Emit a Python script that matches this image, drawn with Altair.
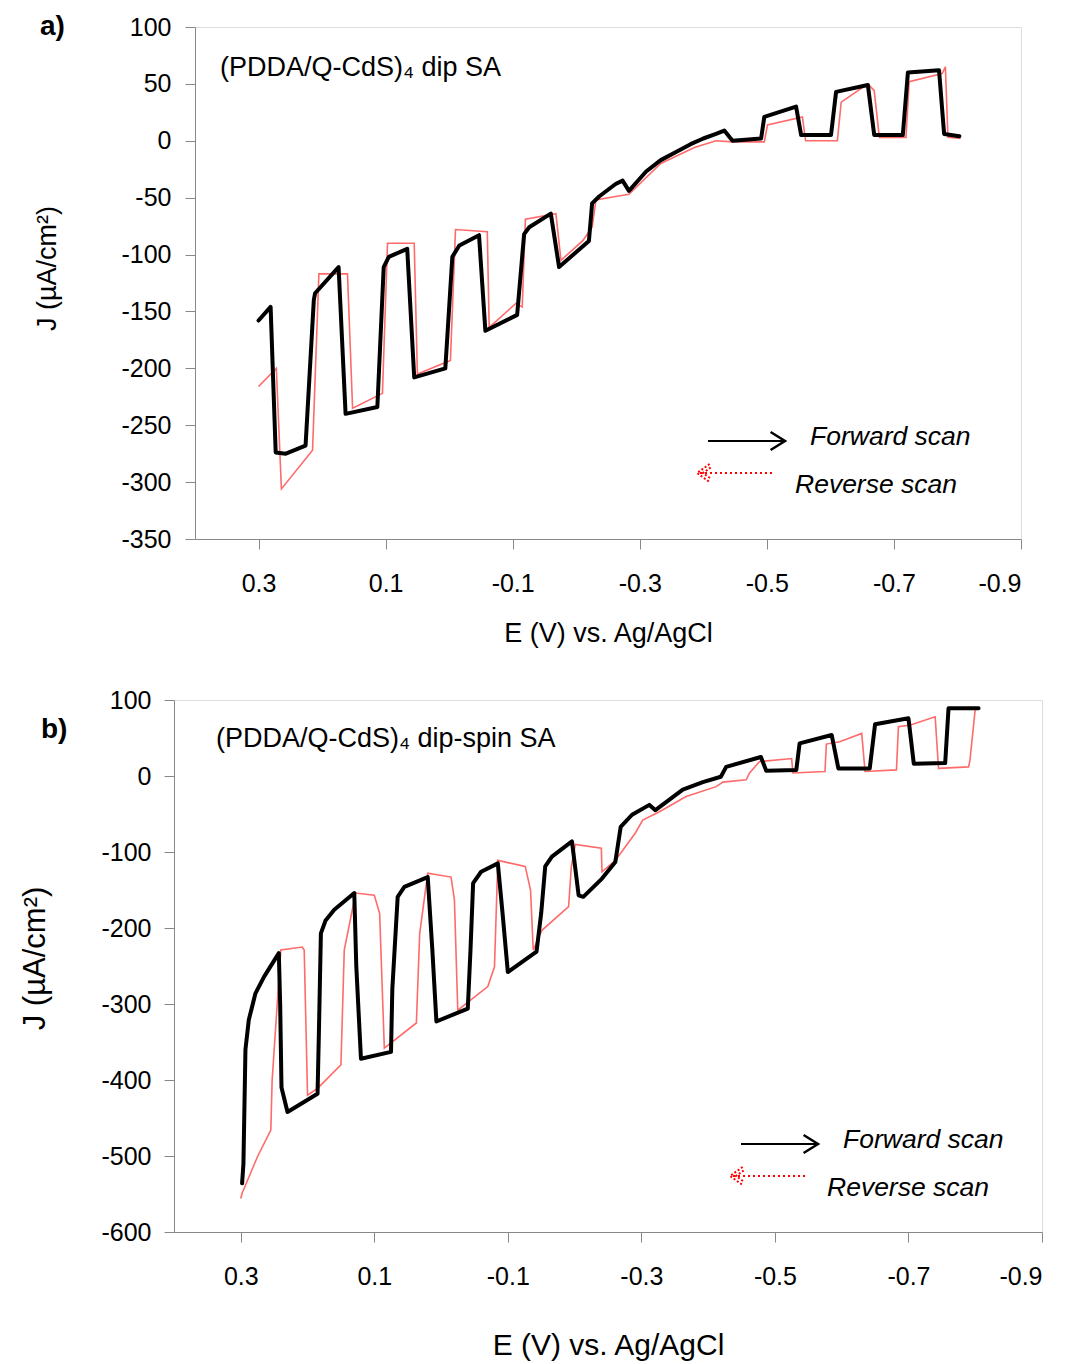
import altair as alt
import pandas as pd

FONT = "Liberation Sans"

# ---------------- Panel a: (PDDA/Q-CdS)4 dip SA ----------------
a_fwd_E = [0.300, 0.281, 0.273, 0.257, 0.226, 0.213, 0.211, 0.174, 0.163, 0.113, 0.103, 0.095, 0.066,
           0.055, 0.006, -0.005, -0.016, -0.047, -0.057, -0.107, -0.118, -0.126, -0.160, -0.173, -0.220,
           -0.225, -0.236, -0.262, -0.273, -0.283, -0.310, -0.333, -0.360, -0.380, -0.400, -0.420, -0.433,
           -0.446, -0.491, -0.496, -0.546, -0.554, -0.601, -0.609, -0.659, -0.669, -0.714, -0.722, -0.771,
           -0.779, -0.803]
a_fwd_J = [-158, -146, -274, -275, -268, -140, -134, -111, -240, -234, -111, -102, -95,
           -208, -200, -102, -92, -83, -167, -153, -82, -76, -64, -111, -88,
           -55, -49, -38, -35, -44, -27, -17, -9, -3, 2, 6, 9,
           0, 2, 21, 30, 5, 5, 43, 49, 5, 5, 60, 62,
           6, 4]

a_rev_E = [-0.805, -0.785, -0.781, -0.776, -0.724, -0.719, -0.677, -0.669, -0.659, -0.617, -0.611, -0.561,
           -0.556, -0.501, -0.496, -0.446, -0.420, -0.386, -0.333, -0.283, -0.262, -0.231, -0.225, -0.210,
           -0.176, -0.168, -0.120, -0.115, -0.105, -0.063, -0.060, -0.010, -0.002, 0.050, 0.055, 0.097,
           0.105, 0.152, 0.160, 0.205, 0.215, 0.264, 0.272, 0.300]
a_rev_J = [2, 3, 65, 59, 52, 3, 3, 44, 50, 34, 0, 0,
           21, 14, -1, -1, 0, -6, -20, -47, -49, -52, -76, -88,
           -105, -64, -69, -146, -143, -164, -80, -78, -193, -205, -90, -90,
           -222, -235, -117, -117, -272, -306, -200, -216]

# ---------------- Panel b: (PDDA/Q-CdS)4 dip-spin SA ----------------
b_fwd_E = [0.298, 0.296, 0.293, 0.288, 0.278, 0.265, 0.243, 0.241, 0.239, 0.230, 0.185, 0.183, 0.180,
           0.173, 0.160, 0.130, 0.127, 0.120, 0.075, 0.073, 0.065, 0.055, 0.020, 0.013, 0.007, -0.040,
           -0.044, -0.048, -0.060, -0.085, -0.092, -0.100, -0.143, -0.150, -0.156, -0.166, -0.196, -0.206,
           -0.213, -0.241, -0.261, -0.269, -0.286, -0.312, -0.321, -0.362, -0.392, -0.419, -0.427, -0.479,
           -0.487, -0.532, -0.537, -0.585, -0.595, -0.642, -0.650, -0.700, -0.708, -0.755, -0.760, -0.805]
b_fwd_J = [-536, -510, -360, -321, -286, -264, -233, -300, -410, -442, -418, -338, -207,
           -190, -176, -154, -250, -372, -363, -280, -159, -146, -133, -230, -323, -306,
           -230, -141, -126, -115, -180, -258, -231, -180, -119, -106, -86, -157,
           -159, -135, -113, -67, -51, -38, -45, -18, -8, -1, 12, 25,
           7, 8, 43, 54, 10, 10, 68, 76, 16, 17, 89, 89]

b_rev_E = [-0.805, -0.800, -0.792, -0.790, -0.745, -0.740, -0.703, -0.685, -0.682, -0.635, -0.630, -0.597,
           -0.577, -0.575, -0.527, -0.525, -0.477, -0.462, -0.457, -0.422, -0.412, -0.367, -0.327, -0.302,
           -0.291, -0.276, -0.261, -0.241, -0.240, -0.201, -0.195, -0.191, -0.151, -0.138, -0.134, -0.126,
           -0.085, -0.080, -0.070, -0.025, -0.020, -0.015, 0.020, 0.032, 0.037, 0.085, 0.092, 0.100,
           0.128, 0.145, 0.150, 0.185, 0.200, 0.205, 0.208, 0.240, 0.253, 0.255, 0.275, 0.298, 0.300]
b_rev_J = [89, 88, 20, 12, 10, 78, 67, 65, 8, 6, 56, 45,
           42, 6, 4, 23, 19, 4, -5, -8, -14, -27, -47, -58,
           -75, -93, -111, -126, -95, -90, -120, -172, -203, -229, -150, -119,
           -111, -251, -277, -308, -163, -133, -128, -207, -325, -358, -181, -157,
           -154, -229, -380, -411, -420, -229, -225, -229, -400, -466, -501, -549, -556]

X_TICKS = [0.3, 0.1, -0.1, -0.3, -0.5, -0.7, -0.9]
A_YTICKS = [100, 50, 0, -50, -100, -150, -200, -250, -300, -350]
B_YTICKS = [100, 0, -100, -200, -300, -400, -500, -600]

X_TITLE = "E (V) vs. Ag/AgCl"
Y_TITLE = "J (\u00b5A/cm\u00b2)"
FWD_LABEL = "Forward scan"
REV_LABEL = "Reverse scan"


def series(E, J):
    return pd.DataFrame({"E": E, "J": J, "i": list(range(len(E)))})


def one(text):
    return pd.DataFrame({"t": [text]})


def panel(fwdE, fwdJ, revE, revJ, ydom, yticks, W, H, tag, annot, lay):
    xenc = alt.X(
        "E:Q",
        scale=alt.Scale(domain=[-0.9, 0.4], reverse=True, nice=False, zero=False),
        axis=alt.Axis(
            values=X_TICKS, title=X_TITLE, grid=False,
            labelExpr="(datum.value < 0 ? '-' : '') + format(abs(datum.value), '.1f')",
            labelFontSize=lay["lfs"], titleFontSize=lay["xtfs"], titleFontWeight=400,
            labelPadding=lay["xlp"], titlePadding=lay["xtp"], tickSize=10,
        ),
    )
    yenc = alt.Y(
        "J:Q",
        scale=alt.Scale(domain=ydom, nice=False, zero=False),
        axis=alt.Axis(
            values=yticks, title=Y_TITLE, grid=False,
            labelExpr="(datum.value < 0 ? '-' : '') + format(abs(datum.value), 'd')",
            labelFontSize=lay["lfs"], titleFontSize=lay["ytfs"], titleFontWeight=400,
            labelPadding=lay["ylp"], tickSize=10,
            titleX=lay["ytx"], titleY=lay["yty"], titleBaseline="middle", titleAlign="center",
        ),
    )
    rev = alt.Chart(series(revE, revJ)).mark_line(
        color="#ff6a6a", strokeWidth=1.6, clip=True
    ).encode(x=xenc, y=yenc, order="i:Q")
    fwd = alt.Chart(series(fwdE, fwdJ)).mark_line(
        color="black", strokeWidth=4, strokeJoin="round", strokeCap="round", clip=True
    ).encode(x=alt.X("E:Q"), y=alt.Y("J:Q"), order="i:Q")

    tag_t = alt.Chart(one(tag)).mark_text(
        font=FONT, fontSize=28, fontWeight="bold", align="left", baseline="middle", color="black"
    ).encode(x=alt.value(lay["tagx"]), y=alt.value(lay["tagy"]), text="t:N")
    ann_t = alt.Chart(one(annot)).mark_text(
        font=FONT, fontSize=lay["afs"], align="left", baseline="middle", color="black"
    ).encode(x=alt.value(lay["annx"]), y=alt.value(lay["anny"]), text="t:N")

    # legend arrows
    fx0, fx1, fy = lay["fwd_arrow"]
    rx0, rx1, ry = lay["rev_arrow"]
    src = one("")
    f_shaft = alt.Chart(src).mark_rule(color="black", strokeWidth=2).encode(
        x=alt.value(fx0), x2=alt.value(fx1), y=alt.value(fy))
    f_head = alt.Chart(src).mark_point(
        shape="M-1.6,-1L0,0L-1.6,1", filled=False, color="black", strokeWidth=2.5, size=324, opacity=1
    ).encode(x=alt.value(fx1), y=alt.value(fy))
    r_shaft = alt.Chart(src).mark_rule(color="red", strokeWidth=2, strokeDash=[2, 3]).encode(
        x=alt.value(rx0 + 3), x2=alt.value(rx1), y=alt.value(ry))
    r_head1 = alt.Chart(src).mark_point(
        shape="M1.4,-1L0,0L1.4,1", filled=False, color="red", strokeWidth=2, strokeDash=[2, 2],
        size=324, opacity=1
    ).encode(x=alt.value(rx0), y=alt.value(ry))
    r_head2 = alt.Chart(src).mark_point(
        shape="M1.4,-1L0,0L1.4,1", filled=False, color="red", strokeWidth=2, strokeDash=[2, 2],
        size=121, opacity=1
    ).encode(x=alt.value(rx0 + 6), y=alt.value(ry))
    f_txt = alt.Chart(one(FWD_LABEL)).mark_text(
        font=FONT, fontSize=lay["lgfs"], fontStyle="italic", align="left", baseline="middle", color="black"
    ).encode(x=alt.value(lay["fwd_txt"][0]), y=alt.value(lay["fwd_txt"][1]), text="t:N")
    r_txt = alt.Chart(one(REV_LABEL)).mark_text(
        font=FONT, fontSize=lay["lgfs"], fontStyle="italic", align="left", baseline="middle", color="black"
    ).encode(x=alt.value(lay["rev_txt"][0]), y=alt.value(lay["rev_txt"][1]), text="t:N")

    return alt.layer(
        rev, fwd, tag_t, ann_t, f_shaft, f_head, r_shaft, r_head1, r_head2, f_txt, r_txt
    ).properties(width=W, height=H)


lay_a = dict(lfs=25, xtfs=27, ytfs=27, xlp=22, xtp=24, ylp=14, ytx=-148, yty=241,
             tagx=-155, tagy=0, afs=27, annx=25, anny=41,
             fwd_arrow=(513, 590, 414), rev_arrow=(502, 580, 446),
             fwd_txt=(615, 410), rev_txt=(600, 458), lgfs=26.5)
lay_b = dict(lfs=25, xtfs=30, ytfs=31, xlp=22, xtp=41, ylp=13, ytx=-139, yty=258,
             tagx=-133, tagy=30, afs=27, annx=42, anny=39,
             fwd_arrow=(567, 644, 444), rev_arrow=(556, 633, 476),
             fwd_txt=(669, 440), rev_txt=(653, 488), lgfs=26.5)

pa = panel(a_fwd_E, a_fwd_J, a_rev_E, a_rev_J, [-350, 100], A_YTICKS, 826, 512,
           "a)", "(PDDA/Q-CdS)\u2084 dip SA", lay_a)
pb = panel(b_fwd_E, b_fwd_J, b_rev_E, b_rev_J, [-600, 100], B_YTICKS, 868, 532,
           "b)", "(PDDA/Q-CdS)\u2084 dip-spin SA", lay_b)

chart = alt.vconcat(pa, pb, spacing=161, bounds="flush", center=True).properties(
    padding={"left": 10, "top": 4, "right": 5, "bottom": 5}
).configure_view(
    stroke="black", strokeWidth=2
).configure_axis(
    labelFont=FONT, titleFont=FONT, labelColor="black", titleColor="black",
    titleFontWeight="normal", domainColor="black", domainWidth=2,
    tickColor="#444444", tickWidth=1, grid=False
).configure(background="white")

chart.save("out.html", embed_options={"renderer": "svg", "actions": False})
